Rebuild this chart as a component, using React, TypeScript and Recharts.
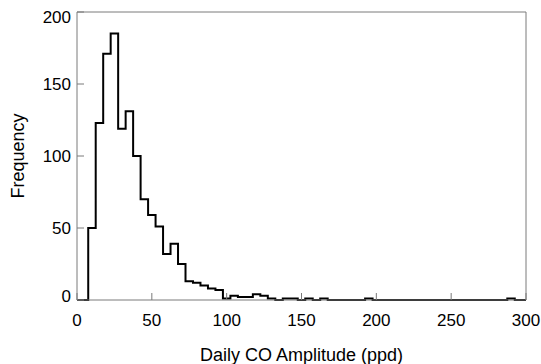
import { LineChart, Line, XAxis, YAxis } from "recharts";

// histogram counts, one per 5 ppd bin, bin centres 0..300
const binWidth = 5;
const counts = [
  0, 0, 50, 123, 171, 185, 119, 131, 100, 70,
  59, 51, 32, 39, 25, 13, 12, 10, 8, 7,
  1, 3, 2, 2, 4, 3, 1, 0, 1, 1,
  0, 1, 0, 1, 0, 0, 0, 0, 0, 1,
  0, 0, 0, 0, 0, 0, 0, 0, 0, 0,
  0, 0, 0, 0, 0, 0, 0, 0, 1, 0,
  0,
];
const xTicks = [0, 50, 100, 150, 200, 250, 300];
const yTicks = [0, 50, 100, 150, 200];

const data = counts.map((count, i) => ({ amp: i * binWidth, count }));

const font = "Liberation Sans, Arial, Helvetica, sans-serif";
const fontSize = 17;
const labelSize = 18;
const axisColor = "#7a7a7a";

const YTick = (props: any) => {
  const { x, y, payload } = props;
  // matlab-style: end labels pulled inside the box
  const nudge = payload.value === 200 ? 5 : payload.value === 0 ? -4 : 0;
  return (
    <text x={x} y={y + nudge} dy="0.355em" textAnchor="end" fill="#000" fontSize={fontSize} fontFamily={font}>
      {payload.value}
    </text>
  );
};

export default function App() {
  return (
    <div style={{ position: "absolute", left: 0, top: 0, width: 541, height: 364, background: "#fff" }}>
      <LineChart width={541} height={364} data={data} margin={{ top: 11, right: 14, bottom: 0, left: 0 }}>
        <XAxis
          xAxisId="bottom"
          dataKey="amp"
          type="number"
          domain={[0, 300]}
          ticks={xTicks}
          height={64}
          stroke={axisColor}
          tickSize={-7}
          tickMargin={21}
          tick={{ fill: "#000", fontSize, fontFamily: font }}
          label={{ value: "Daily CO Amplitude (ppd)", position: "insideBottom", offset: 3, fill: "#000", fontSize: labelSize, fontFamily: font }}
        />
        <XAxis
          xAxisId="top"
          orientation="top"
          dataKey="amp"
          type="number"
          domain={[0, 300]}
          ticks={xTicks}
          height={1}
          stroke={axisColor}
          tickSize={-7}
          tick={false}
        />
        <YAxis
          yAxisId="left"
          type="number"
          domain={[0, 200]}
          ticks={yTicks}
          width={77}
          stroke={axisColor}
          tickSize={-7}
          tickMargin={13}
          tick={<YTick />}
          label={{ value: "Frequency", angle: -90, position: "insideLeft", offset: 18, fill: "#000", fontSize: labelSize, fontFamily: font, style: { textAnchor: "middle" } }}
        />
        <YAxis
          yAxisId="right"
          orientation="right"
          type="number"
          domain={[0, 200]}
          ticks={yTicks}
          width={1}
          stroke={axisColor}
          tickSize={-7}
          tick={false}
        />
        <Line
          xAxisId="bottom"
          yAxisId="left"
          dataKey="count"
          type="step"
          stroke="#000"
          strokeWidth={2}
          dot={false}
          isAnimationActive={false}
        />
      </LineChart>
    </div>
  );
}
